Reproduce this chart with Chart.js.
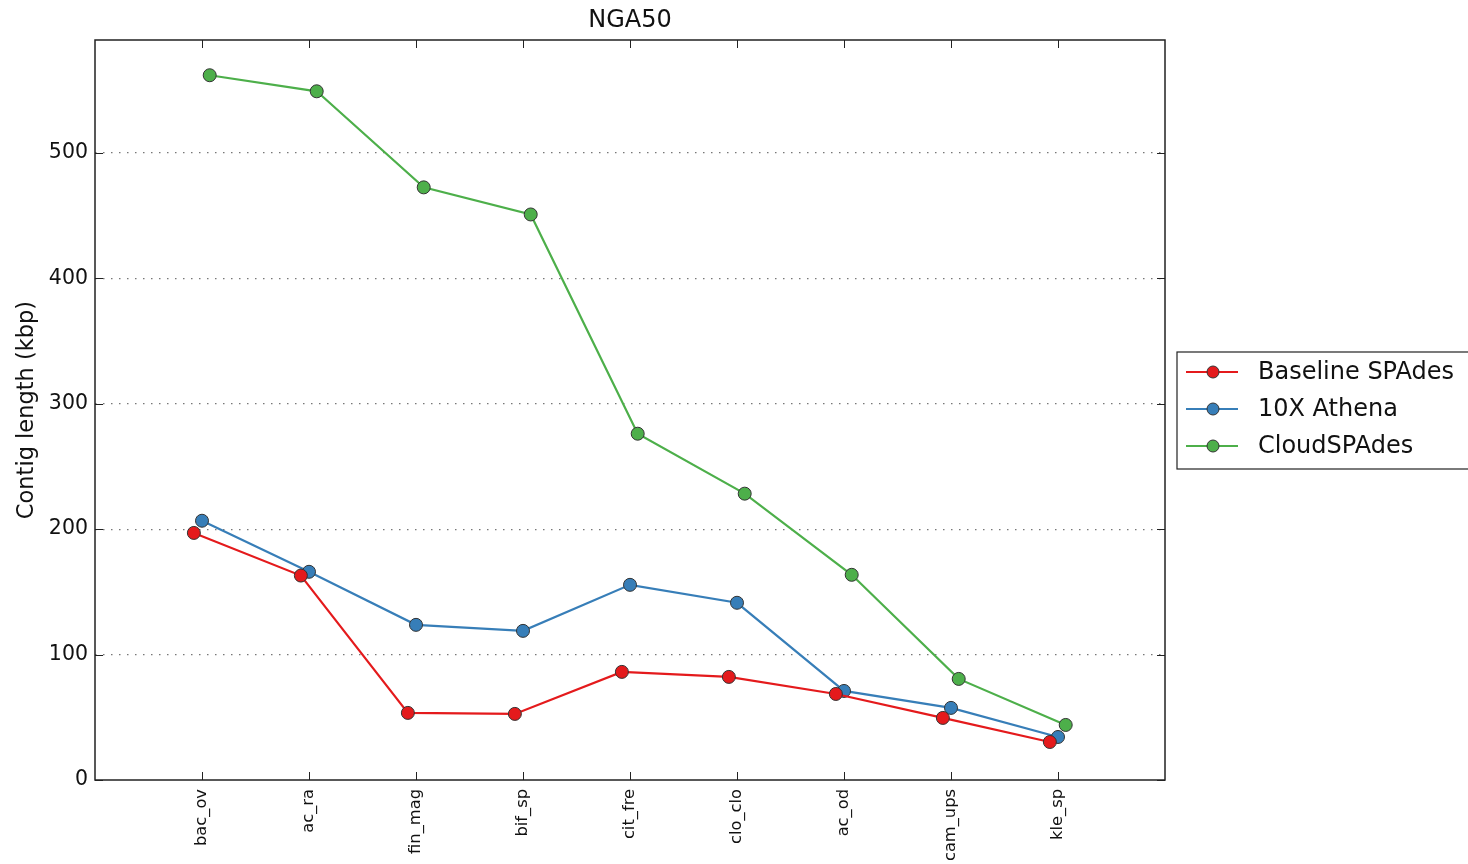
<!DOCTYPE html>
<html>
<head>
<meta charset="utf-8">
<script src="https://cdn.jsdelivr.net/npm/chart.js@4.4.0/dist/chart.umd.min.js"></script>
<style>
  body { margin: 0; background: #fff; }
  #wrap { width: 1468px; height: 864px; }
</style>
</head>
<body>
<div id="wrap"><canvas id="ngaChart" width="1468" height="864"></canvas></div>
<script>
// NGA50 per dataset (kbp)
const categories = ['bac_ov', 'ac_ra', 'fin_mag', 'bif_sp', 'cit_fre', 'clo_clo', 'ac_od', 'cam_ups', 'kle_sp'];
const baselineSpades = [197, 163, 53.5, 52.7, 86.2, 82.2, 68.6, 49.5, 30.3];
const athena10x = [206.7, 166, 123.7, 118.9, 155.6, 141.3, 71, 57.5, 34.3];
const cloudSpades = [561.9, 549.1, 472.5, 450.9, 276.1, 228.3, 163.6, 80.6, 43.9];
const yTicks = [0, 100, 200, 300, 400, 500];

Chart.defaults.font.family = "'DejaVu Sans', sans-serif";
Chart.defaults.color = '#111';

// small horizontal dodge so the markers don't sit on top of each other
function toPoints(values, shift) {
    return values.map((v, i) => ({ x: i + shift, y: v }));
}

function series(label, values, color, shift) {
    return {
        label: label,
        data: toPoints(values, shift),
        borderColor: color,
        backgroundColor: color,
        borderWidth: 2.2,
        pointRadius: 6.5,
        pointHoverRadius: 6.5,
        pointBackgroundColor: color,
        pointBorderColor: '#333',
        pointBorderWidth: 1,
        tension: 0
    };
}

// frame, inward ticks (matplotlib style) and the boxed legend outside the axes
const axesDecor = {
    id: 'axesDecor',
    afterDraw(chart) {
        const { ctx, chartArea: a, scales: { x, y } } = chart;
        ctx.save();
        ctx.strokeStyle = '#222';
        ctx.lineWidth = 1;
        ctx.beginPath();
        x.ticks.forEach(t => {
            const px = Math.round(x.getPixelForValue(t.value)) + 0.5;
            ctx.moveTo(px, a.bottom); ctx.lineTo(px, a.bottom - 8);
            ctx.moveTo(px, a.top); ctx.lineTo(px, a.top + 8);
        });
        y.ticks.forEach(t => {
            const py = Math.round(y.getPixelForValue(t.value)) + 0.5;
            ctx.moveTo(a.left, py); ctx.lineTo(a.left + 8, py);
            ctx.moveTo(a.right, py); ctx.lineTo(a.right - 8, py);
        });
        ctx.stroke();
        ctx.lineWidth = 1.5;
        ctx.strokeRect(a.left, a.top, a.right - a.left, a.bottom - a.top);

        // legend
        const lx = a.right + 12, ly = 352, rowH = 37;
        ctx.lineWidth = 1.2;
        ctx.strokeStyle = '#222';
        ctx.strokeRect(lx, ly, 320, 117);
        ctx.font = "24px 'DejaVu Sans', sans-serif";
        ctx.textBaseline = 'middle';
        ctx.textAlign = 'left';
        chart.data.datasets.forEach((ds, i) => {
            const cy = ly + 20 + i * rowH;
            ctx.strokeStyle = ds.borderColor;
            ctx.lineWidth = 2;
            ctx.beginPath();
            ctx.moveTo(lx + 9, cy); ctx.lineTo(lx + 61, cy);
            ctx.stroke();
            ctx.beginPath();
            ctx.arc(lx + 36, cy, 6, 0, Math.PI * 2);
            ctx.fillStyle = ds.borderColor;
            ctx.fill();
            ctx.lineWidth = 1;
            ctx.strokeStyle = '#333';
            ctx.stroke();
            ctx.fillStyle = '#111';
            ctx.fillText(ds.label, lx + 81, cy + 1);
        });
        ctx.restore();
    }
};

new Chart(document.getElementById('ngaChart').getContext('2d'), {
    type: 'line',
    data: {
        datasets: [
            series('Baseline SPAdes', baselineSpades, '#e41a1c', -0.076),
            series('10X Athena', athena10x, '#377eb8', 0),
            series('CloudSPAdes', cloudSpades, '#4daf4a', 0.072)
        ]
    },
    options: {
        responsive: false,
        animation: false,
        layout: { padding: { left: 0, right: 303, top: 0, bottom: 0 } },
        plugins: {
            legend: { display: false },
            tooltip: { enabled: false },
            title: {
                display: true,
                text: 'NGA50',
                fullSize: false,
                color: '#111',
                font: { size: 24, weight: 'normal' },
                padding: { top: 6, bottom: 5.2 }
            }
        },
        scales: {
            x: {
                type: 'linear',
                min: -1,
                max: categories.length,
                afterBuildTicks: scale => {
                    scale.ticks = categories.map((c, i) => ({ value: i }));
                },
                afterFit: scale => { scale.height = 84; },
                grid: { display: false, drawTicks: false },
                border: { display: false },
                ticks: {
                    autoSkip: false,
                    maxRotation: 90,
                    minRotation: 90,
                    padding: 9,
                    font: { size: 16.3 },
                    callback: v => categories[v]
                }
            },
            y: {
                min: 0,
                max: 590,
                afterBuildTicks: scale => {
                    scale.ticks = yTicks.map(v => ({ value: v }));
                },
                afterFit: scale => { scale.width = 95; },
                grid: {
                    drawTicks: false,
                    lineWidth: 1.3,
                    color: c => (c.tick && c.tick.value === 0) ? 'rgba(0,0,0,0)' : '#777'
                },
                border: { display: false, dash: [1.5, 6.5] },
                title: {
                    display: true,
                    text: 'Contig length (kbp)',
                    color: '#111',
                    font: { size: 22.5 },
                    padding: { top: 14, bottom: 0 }
                },
                ticks: {
                    padding: 7,
                    font: { size: 20.5 }
                }
            }
        }
    },
    plugins: [axesDecor]
});
</script>
</body>
</html>
